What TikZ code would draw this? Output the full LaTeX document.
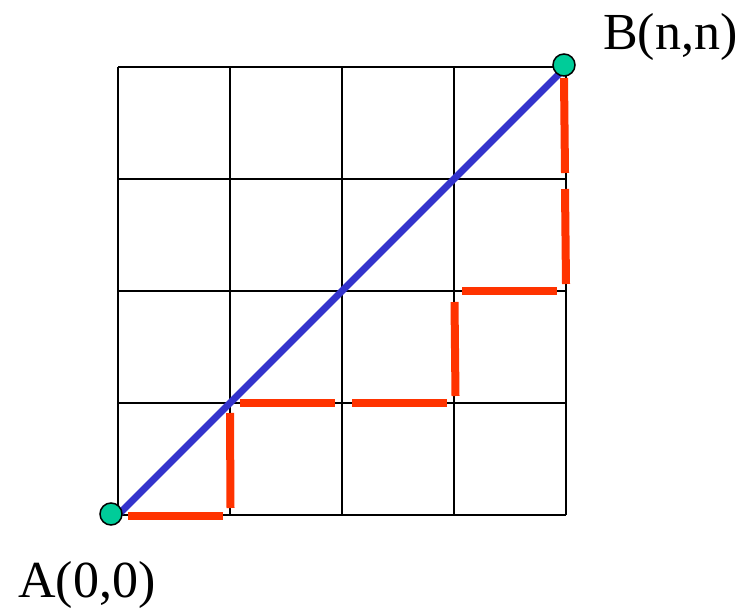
\documentclass[tikz,border=0pt]{standalone}
\usepackage{fontspec}
\setmainfont{Liberation Serif}
\definecolor{pathred}{RGB}{255,51,0}
\definecolor{diagblue}{RGB}{51,51,204}
\definecolor{dotgreen}{RGB}{0,204,153}
\begin{document}
\begin{tikzpicture}[x=1pt,y=-1pt,
  gridline/.style={line width=2pt,black},
  reddash/.style={line width=8pt,pathred},
  diagline/.style={line width=7pt,diagblue},
  endpoint/.style={circle,draw=black,line width=1.5pt,fill=dotgreen,minimum size=22pt,inner sep=0pt},
  lbl/.style={font=\fontsize{52}{58}\selectfont,inner sep=0pt}]
\useasboundingbox (0,0) rectangle (744,609);
% grid
\foreach \v in {118,230,342,454,566} {
  \draw[gridline] (\v,67) -- (\v,515);
  \draw[gridline] (118,\v-51) -- (566,\v-51);
}
\coordinate (gA) at (118,515);
\coordinate (gB) at (566,67);
% red staircase path (dashed segments)
\draw[reddash] (128,515.5) -- (223,515.5);
\draw[reddash] (230,413) -- (230.5,508);
\draw[reddash] (240,403) -- (335,403);
\draw[reddash] (352,403) -- (447,403);
\draw[reddash] (454.5,302) -- (455.5,396);
\draw[reddash] (462,291) -- (557,291);
\draw[reddash] (565,189) -- (566,284);
\draw[reddash] (564,78) -- (565,173);
% diagonal
\draw[diagline] (gA) -- (gB);
% endpoints
\node[endpoint] (A) at (111,514) {};
\node[endpoint] (B) at (564,65) {};
\node[lbl,anchor=base west] (Alabel) at (18,597) {A(0,0)};
\node[lbl,anchor=base west] (Blabel) at (603,50) {B(n,n)};
\end{tikzpicture}
\end{document}
